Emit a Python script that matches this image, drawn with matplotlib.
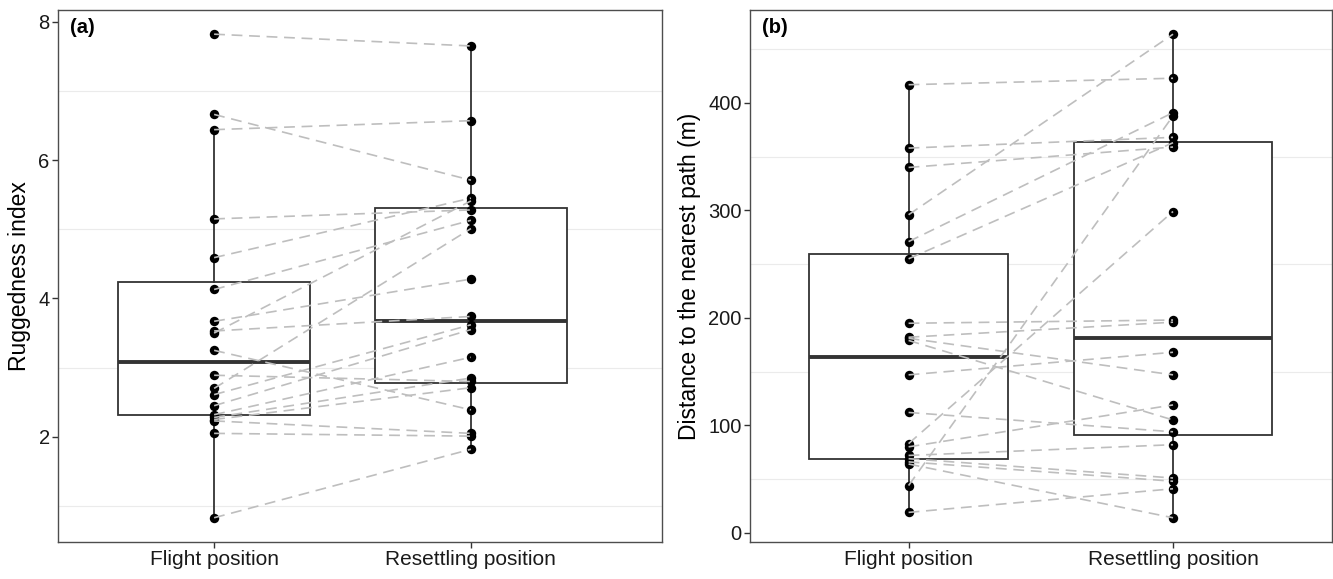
import matplotlib
matplotlib.use("Agg")
import numpy as np
import matplotlib.pyplot as plt

# ── DATA ──────────────────────────────────────────────────────────────────────
CATEGORIES = ["Flight position", "Resettling position"]

# Panel (a): ruggedness index, paired per bird (flight -> resettling)
RUGGED_FLIGHT   = [7.82, 6.66, 6.44, 5.15, 4.59, 4.13, 3.67, 3.53, 3.50, 3.25,
                   2.89, 2.70, 2.61, 2.45, 2.32, 2.28, 2.25, 2.23, 2.05, 0.83]
RUGGED_RESETTLE = [7.65, 5.71, 6.57, 5.28, 5.45, 5.13, 4.28, 3.74, 5.41, 2.39,
                   2.80, 5.01, 3.62, 3.55, 3.15, 2.85, 2.71, 2.05, 2.01, 1.82]
# boxplot stats: whislo, q1, median, q3, whishi
RUGGED_BOX_FLIGHT   = [0.83, 2.31, 3.08, 4.24, 6.44]
RUGGED_BOX_RESETTLE = [1.82, 2.78, 3.68, 5.31, 7.65]

# Panel (b): distance to the nearest path (m)
DIST_FLIGHT   = [417, 358, 340, 296, 271, 255, 195, 182, 181, 179,
                 147, 112, 83, 80, 72, 69, 66, 64, 44, 19]
DIST_RESETTLE = [423, 368, 359, 464, 391, 363, 198, 196, 147, 105,
                 168, 94, 299, 119, 82, 51, 48, 14, 388, 41]
DIST_BOX_FLIGHT   = [19, 68.7, 163.6, 259.6, 417]
DIST_BOX_RESETTLE = [14, 91, 181.6, 364, 464]

# ── STIJL ─────────────────────────────────────────────────────────────────────
FONT        = ["Liberation Sans", "DejaVu Sans"]
KLEUR_LIJN  = "#BEBEBE"
KLEUR_BOX   = "#333333"
KLEUR_GRID  = "#EBEBEB"
KLEUR_RAND  = "#4D4D4D"

plt.rcParams.update({
    "font.family": FONT,
    "font.size": 15,
    "axes.edgecolor": KLEUR_RAND,
    "axes.linewidth": 1.0,
})


def expand(lo, hi, frac=0.05):
    span = hi - lo
    return lo - frac * span, hi + frac * span


def box_stats(rij):
    lo, q1, med, q3, hi = rij
    return {"whislo": lo, "q1": q1, "med": med, "q3": q3,
            "whishi": hi, "fliers": []}


def teken_paneel(ax, flight, resettle, box_f, box_r, ylabel, yticks,
                 grid, label, xlim):
    ax.bxp([box_stats(box_f), box_stats(box_r)], positions=[1, 2],
           widths=0.75, showcaps=False, showfliers=False, patch_artist=True,
           boxprops=dict(facecolor="white", edgecolor=KLEUR_BOX, linewidth=1.3),
           medianprops=dict(color=KLEUR_BOX, linewidth=2.8),
           whiskerprops=dict(color=KLEUR_BOX, linewidth=1.3),
           zorder=2)

    ax.scatter(np.ones(len(flight)), flight, s=46, color="black",
               linewidths=0, zorder=3)
    ax.scatter(np.full(len(resettle), 2), resettle, s=46, color="black",
               linewidths=0, zorder=3)

    # lines on top of points, like in the original
    for f, r in zip(flight, resettle):
        ax.plot([1, 2], [f, r], color=KLEUR_LIJN, linewidth=1.2,
                linestyle=(0, (6.5, 4)), zorder=4)

    for g in grid:
        ax.axhline(g, color=KLEUR_GRID, linewidth=0.8, zorder=0)

    alle = list(flight) + list(resettle) + list(box_f) + list(box_r)
    ax.set_ylim(*expand(min(alle), max(alle)))
    ax.set_xlim(*xlim)
    ax.set_xticks([1, 2])
    ax.set_xticklabels(CATEGORIES, fontsize=15, color="#1A1A1A")
    ax.set_yticks(yticks)
    ax.tick_params(axis="y", labelsize=14.5, labelcolor="#1A1A1A")
    ax.tick_params(length=4, width=1.0, color=KLEUR_BOX, pad=2)
    ax.set_ylabel(ylabel, fontsize=16.5, labelpad=5)

    ax.text(0.02, 0.985, label, transform=ax.transAxes, ha="left", va="top",
            fontsize=14.5, fontweight="bold", zorder=6)


fig = plt.figure(figsize=(13.33, 5.79), dpi=100)
ax_a = fig.add_axes([0.0435, 0.064, 0.4529, 0.9187])
ax_b = fig.add_axes([0.5626, 0.064, 0.4364, 0.9187])

teken_paneel(ax_a, RUGGED_FLIGHT, RUGGED_RESETTLE,
             RUGGED_BOX_FLIGHT, RUGGED_BOX_RESETTLE,
             "Ruggedness index", [2, 4, 6, 8], [1, 3, 5, 7], "(a)",
             (0.392, 2.743))
teken_paneel(ax_b, DIST_FLIGHT, DIST_RESETTLE,
             DIST_BOX_FLIGHT, DIST_BOX_RESETTLE,
             "Distance to the nearest path (m)", [0, 100, 200, 300, 400],
             [50, 150, 250, 350, 450], "(b)", (0.4, 2.6))

fig.savefig("out.png", dpi=100)
